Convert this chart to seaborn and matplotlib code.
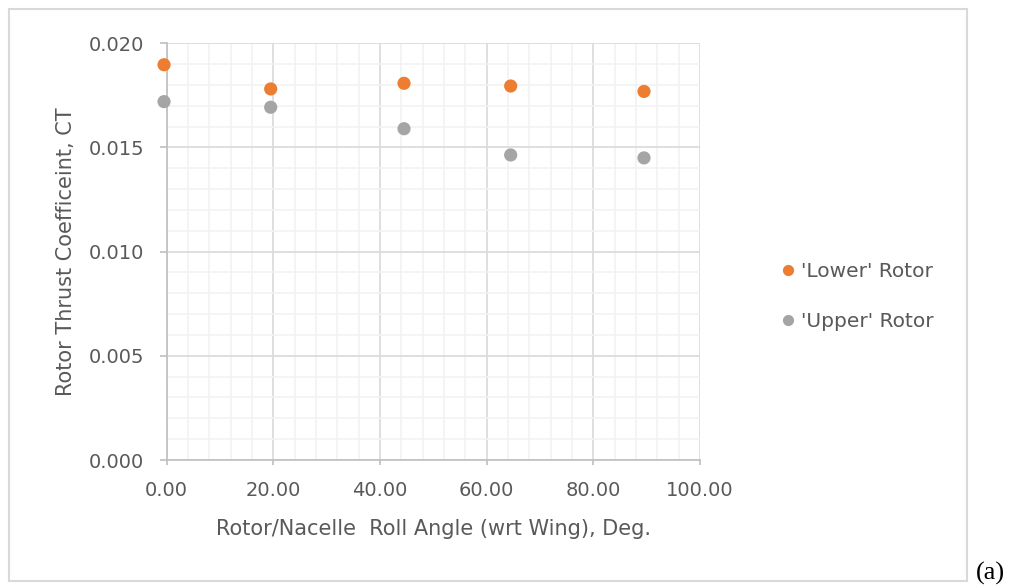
import matplotlib
matplotlib.use("Agg")
import matplotlib.pyplot as plt
from matplotlib.patches import Rectangle
from matplotlib.ticker import MultipleLocator, FormatStrFormatter
import seaborn as sns
import pandas as pd

roll_angle = [-0.5, 19.5, 44.5, 64.5, 89.5]
lower_ct = [0.01897, 0.01781, 0.01808, 0.01795, 0.01769]
upper_ct = [0.01720, 0.01693, 0.01590, 0.01464, 0.01450]
series_names = ["'Lower' Rotor", "'Upper' Rotor"]
colors = ["#ED7D31", "#A5A5A5"]

df = pd.DataFrame({
    "x": roll_angle * 2,
    "y": lower_ct + upper_ct,
    "series": [series_names[0]] * len(roll_angle) + [series_names[1]] * len(roll_angle),
})

sns.set_theme(style="white")
plt.rcParams["font.family"] = ["DejaVu Sans"]
text_color = "#595959"

fig = plt.figure(figsize=(10.14, 5.88), dpi=100)
ax = fig.add_axes([166.7 / 1014, 1 - 460 / 588, (700 - 166.7) / 1014, (460 - 43.3) / 588])

sns.scatterplot(data=df, x="x", y="y", hue="series", palette=colors, s=90,
                edgecolor="none", linewidth=0, ax=ax, zorder=5, clip_on=False)

ax.set_xlim(0, 100)
ax.set_ylim(0, 0.020)
ax.xaxis.set_major_locator(MultipleLocator(20))
ax.xaxis.set_minor_locator(MultipleLocator(4))
ax.yaxis.set_major_locator(MultipleLocator(0.005))
ax.yaxis.set_minor_locator(MultipleLocator(0.001))
ax.xaxis.set_major_formatter(FormatStrFormatter("%.2f"))
ax.yaxis.set_major_formatter(FormatStrFormatter("%.3f"))

ax.grid(which="minor", color="#f2f2f2", linewidth=1.2, zorder=0)
ax.grid(which="major", color="#d9d9d9", linewidth=1.2, zorder=1)
ax.set_axisbelow(True)

for side in ["top", "right"]:
    ax.spines[side].set_visible(False)
for side in ["left", "bottom"]:
    ax.spines[side].set_color("#bfbfbf")
    ax.spines[side].set_linewidth(1.2)

ax.tick_params(which="major", direction="out", width=1.2, color="#bfbfbf",
               labelsize=14, labelcolor=text_color, bottom=True, left=True)
ax.tick_params(axis="x", which="major", length=3.6, pad=11.5)
ax.tick_params(axis="y", which="major", length=5, pad=11)
ax.tick_params(which="minor", length=0)

ax.set_xlabel("Rotor/Nacelle  Roll Angle (wrt Wing), Deg.", fontsize=15, color=text_color)
ax.set_ylabel("Rotor Thrust Coefficeint, CT", fontsize=15, color=text_color)
ax.xaxis.set_label_coords(0.5, -(529 - 460) / 416.7, transform=ax.transAxes)
ax.xaxis.label.set_va("center")
ax.yaxis.set_label_coords(-(166.7 - 66) / 533.3, 0.5, transform=ax.transAxes)
ax.yaxis.label.set_va("center")

leg = ax.legend(loc="upper left", bbox_to_anchor=(778 / 1014, 1 - 262 / 588),
                bbox_transform=fig.transFigure, frameon=False, borderaxespad=0,
                borderpad=0, fontsize=14.5, labelcolor=text_color, handletextpad=0.15,
                handlelength=1.0, labelspacing=1.55, markerscale=0.85)

fig.patches.append(Rectangle((8.5 / 1014, 1 - 581 / 588), (967 - 8.5) / 1014, (581 - 8.5) / 588,
                             transform=fig.transFigure, fill=False, edgecolor="#d9d9d9",
                             linewidth=1.5))
fig.text(990 / 1014, 1 - 573 / 588, "(a)", fontsize=19, family=["Liberation Serif"],
         color="black", ha="center", va="center")

fig.savefig("out.png", dpi=100, facecolor="white")
